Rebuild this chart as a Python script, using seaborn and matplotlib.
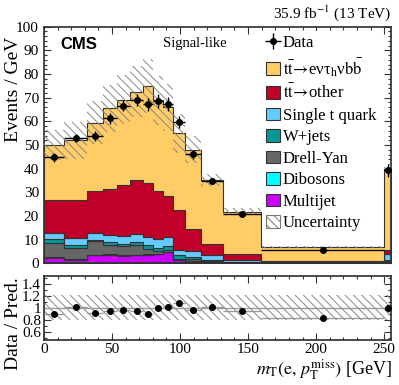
import numpy as np
import pandas as pd
import matplotlib
matplotlib.use('Agg')
import matplotlib.pyplot as plt
from matplotlib.patches import Patch
from matplotlib.ticker import MultipleLocator, FixedLocator, FixedFormatter
import seaborn as sns

# bin edges of m_T (GeV), variable width
edges = [0, 15, 31.5, 43.3, 53.5, 63.3, 73, 80.5, 87.3, 94.7, 103.7, 115.4, 131.3, 159.4, 250, 255]

# stacked processes (Events / GeV), top of stack first
tt_sig   = [23.0, 25.3, 29.0, 33.9, 35.9, 37.4, 41.0, 38.3, 37.5, 32.5, 33.3, 26.9, 18.0, 6.0, 34.5]
tt_other = [14.2, 15.8, 17.5, 19.4, 21.6, 22.9, 22.6, 20.2, 17.1, 16.7, 9.6, 4.9, 2.2, 0.4, 1.4]
single_t = [2.6, 2.9, 3.0, 3.2, 3.4, 3.4, 3.8, 3.9, 4.2, 2.1, 2.4, 1.9, 1.0, 0.3, 2.6]
wjets    = [1.6, 1.4, 0.7, 1.4, 1.0, 1.3, 1.4, 1.4, 1.7, 1.7, 1.0, 0.6, 0.2, 0.1, 0.5]
dy       = [5.9, 4.7, 5.6, 3.6, 3.9, 3.9, 2.2, 1.1, 0.5, 0.5, 0.7, 0.3, 0.15, 0.03, 0.2]
diboson  = [0.3, 0.3, 0.3, 0.3, 0.3, 0.3, 0.3, 0.3, 0.3, 0.2, 0.2, 0.1, 0.05, 0.02, 0.2]
multijet = [2.4, 1.6, 3.4, 3.7, 3.1, 3.4, 3.7, 3.8, 4.7, 1.3, 0.8, 0.5, 0.2, 0.05, 0.6]

# relative uncertainty of the prediction
rel_unc = [0.13, 0.15, 0.15, 0.15, 0.15, 0.15, 0.15, 0.15, 0.15, 0.15, 0.12, 0.07, 0.07, 0.05, 0.05]
ratio_unc = [0.21, 0.21, 0.21, 0.21, 0.21, 0.21, 0.21, 0.21, 0.21, 0.21, 0.21, 0.21, 0.21, 0.21, 0.21]

# data
data     = [44.8, 53.1, 53.9, 61.3, 66.7, 69.0, 67.2, 68.6, 67.5, 59.9, 46.2, 34.9, 21.0, 5.9, 39.4]
data_err = [1.8, 1.8, 2.2, 2.4, 2.5, 2.6, 2.9, 3.0, 2.9, 2.6, 1.9, 1.4, 0.8, 0.25, 2.8]
ratio    = [0.895, 1.02, 0.91, 0.94, 0.97, 0.95, 0.90, 0.995, 1.02, 1.08, 0.96, 1.02, 0.95, 0.83, 0.99]

names = ['ttsig', 'ttother', 'singlet', 'wjets', 'dy', 'diboson', 'multijet']
comps = [tt_sig, tt_other, single_t, wjets, dy, diboson, multijet]
colors = ['#FFCC66', '#C00028', '#66CCFF', '#009999', '#666666', '#00FFFF', '#CC00FF']
labels = [r'$\mathrm{t\bar{t}}\!\rightarrow\!$eντ$_\mathrm{h}$ν$\mathrm{b\bar{b}}$',
          r'$\mathrm{t\bar{t}}\!\rightarrow\!$other',
          'Single t quark', 'W+jets', 'Drell-Yan', 'Dibosons', 'Multijet']

sns.set_theme(style='ticks')
plt.rcParams['font.family'] = ['Liberation Serif', 'DejaVu Serif']
plt.rcParams['mathtext.fontset'] = 'stix'
plt.rcParams['hatch.linewidth'] = 0.7
plt.rcParams['text.color'] = 'black'
for a in ['xtick', 'ytick']:
    plt.rcParams[a + '.direction'] = 'in'
    plt.rcParams[a + '.color'] = '#333333'
    plt.rcParams[a + '.labelcolor'] = 'black'
plt.rcParams['axes.edgecolor'] = '#333333'

centers = [(a + b) / 2 for a, b in zip(edges[:-1], edges[1:])]
halfw = [(b - a) / 2 for a, b in zip(edges[:-1], edges[1:])]

rows = []
for n, vals in zip(names, comps):
    for c, v in zip(centers, vals):
        rows.append({'mT': c, 'val': v, 'process': n})
df = pd.DataFrame(rows)

total = np.sum(np.array(comps), axis=0)
unc = total * np.array(rel_unc)

fig = plt.figure(figsize=(3.99, 3.85), dpi=100)
ax = fig.add_axes([0.110, 0.3156, 0.870, 0.615])
rax = fig.add_axes([0.110, 0.117, 0.870, 0.167])

sns.histplot(data=df, x='mT', weights='val', hue='process', hue_order=names,
             palette=colors, multiple='stack', bins=edges, element='step',
             alpha=1, edgecolor='#333333', linewidth=0.8, legend=False, ax=ax)

lo = np.append(total - unc, (total - unc)[-1])
hi = np.append(total + unc, (total + unc)[-1])
ax.fill_between(edges, lo, hi, step='post', facecolor='none', edgecolor='#888888',
                hatch='\\\\\\\\', linewidth=0, zorder=3)

eb = ax.errorbar(centers, data, xerr=halfw, yerr=data_err, fmt='o', color='black',
                 ms=4, elinewidth=1, capsize=0, zorder=5)

ax.set_xlim(0, 255)
ax.set_ylim(0, 100)
ax.set_xlabel('')
ax.set_ylabel('')
ax.xaxis.set_major_locator(MultipleLocator(50))
ax.xaxis.set_minor_locator(MultipleLocator(10))
ax.yaxis.set_major_locator(MultipleLocator(10))
ax.yaxis.set_minor_locator(MultipleLocator(2))
ax.tick_params(which='both', top=True, right=True, labelbottom=False, labelsize=11, width=0.8)
ax.tick_params(which='major', length=5)
ax.tick_params(which='minor', length=2.5)

handles = [eb] + [Patch(facecolor=c, edgecolor='#333333', linewidth=0.8) for c in colors]
handles.append(Patch(facecolor='white', edgecolor='#777777', hatch='\\\\\\\\', linewidth=0.8))
leg = ax.legend(handles, ['Data'] + labels + ['Uncertainty'], loc='upper left',
                bbox_to_anchor=(0.628, 0.983), frameon=True, facecolor='white',
                edgecolor='none', framealpha=1, fancybox=False, fontsize=12,
                handlelength=0.85, handleheight=0.8, handletextpad=0.15,
                labelspacing=0.32, borderpad=0.25, borderaxespad=0)
leg.set_zorder(10)

ax.text(0.047, 0.925, 'CMS', transform=ax.transAxes, fontsize=12, fontweight='bold',
        family=['Liberation Sans', 'DejaVu Sans'], va='center', ha='left', color='black')
ax.text(0.343, 0.928, 'Signal-like', transform=ax.transAxes, fontsize=10.5,
        va='center', ha='left')
fig.text(0.982, 0.966, r'35.9 fb$^{-1}$ (13 TeV)', fontsize=11, ha='right', va='center')

# ratio panel
rlo = np.append(1 - np.array(ratio_unc), 1 - ratio_unc[-1])
rhi = np.append(1 + np.array(ratio_unc), 1 + ratio_unc[-1])
rax.fill_between(edges, rlo, rhi, step='post', facecolor='none', edgecolor='#888888',
                 hatch='\\\\\\\\', linewidth=0, zorder=1)
rax.axhline(1, color='#999999', lw=1, zorder=2)
rerr = np.array(data_err) / total
rax.errorbar(centers, ratio, xerr=halfw, yerr=rerr, fmt='none', ecolor='#999999',
             elinewidth=1, capsize=0, zorder=3)
rax.plot(centers, ratio, 'o', color='black', ms=4, zorder=4)
rax.set_xlim(0, 255)
rax.set_ylim(0.46, 1.54)
rax.xaxis.set_major_locator(MultipleLocator(50))
rax.xaxis.set_minor_locator(MultipleLocator(10))
rax.yaxis.set_major_locator(FixedLocator([0.6, 0.8, 1.0, 1.2, 1.4]))
rax.yaxis.set_major_formatter(FixedFormatter(['0.6', '0.8', '1', '1.2', '1.4']))
rax.yaxis.set_minor_locator(MultipleLocator(0.1))
rax.tick_params(which='both', top=True, right=True, labelsize=11, width=0.8, pad=2)
rax.tick_params(which='major', length=5)
rax.tick_params(which='minor', length=2.5)

fig.text(0.035, 0.768, 'Events / GeV', rotation=90, fontsize=14, ha='center', va='center')
fig.text(0.035, 0.158, 'Data / Pred.', rotation=90, fontsize=14, ha='center', va='center')
fig.text(0.982, 0.028, r'$m_{\mathrm{T}}(\mathrm{e},\, p_{\mathrm{T}}^{\mathrm{miss}})$ [GeV]',
         fontsize=13, ha='right', va='baseline')

fig.savefig('out.png', dpi=100)
